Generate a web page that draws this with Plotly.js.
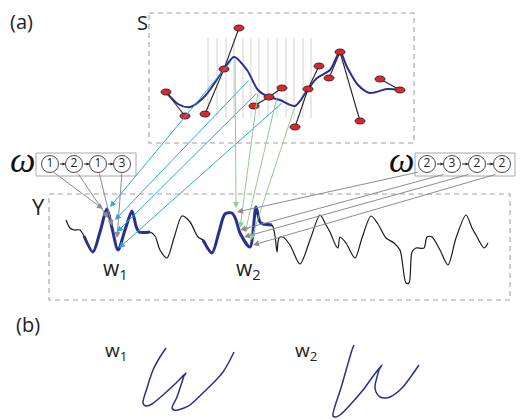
<!DOCTYPE html>
<html><head><meta charset="utf-8">
<script src="https://cdn.plot.ly/plotly-3.0.1.min.js"></script>
<style>html,body{margin:0;padding:0;background:#fff}</style>
</head><body><div id="plot" style="width:520px;height:420px"></div>
<script>
// ---------- data (diagram coordinates) ----------
// S: sample points (red) and their links
const sPtsX = [166,185,205,224,239,254,269,282,295,308,319,329,340,360,380,400];
const sPtsY = [92,116,114,69,28,106,97,88,127,89,66,78,52,121,79,90];
const sLinks = [[0,1],[2,3,4],[5,6,7],[8,9,10],[11,12],[12,13],[14,15]];
// S: smooth blue curve
const sCurveX = [166,178,190,205,224,234,247,258,269,280,295,308,317,330,340,347,358,370,387,400];
const sCurveY = [92,104,107,96,69,57,70,90,97,100,106,89,78,70,52,67,85,93,89,90];
// S: gray vertical grid lines
const sGridX = [208,217,226,234,243,251,259,268,277,286,294,303,311];
const sGridY = [38,118];
// Y: long signal
const yCurveX = [66,70,74,80,84,93,100,107,112,118,125,132,136,139,150,155,160,167,174,182,190,198,203,212,219,225,232,236,240,250,256,260,263,272,275,277,279,283,290,300,310,320,326,330,336,338,340,346,355,362,371,378,386,394,400,406,409,412,416,424,427,432,440,448,456,466,472,476,484,488];
const yCurveY = [220,228,230,230,236,252,232,209,228,250,230,211,226,232,232,236,250,258,238,216,222,237,240,253,232,214,213,220,233,247,207,222,224,225,236,252,238,237,245,264,240,215,225,232,246,248,237,243,258,238,216,224,238,243,250,283,283,252,248,248,237,237,250,265,238,215,228,235,248,243];
const w1Range = [84,150];
const w2Range = [203,273];
// arrows [tailX, tailY, headX, headY]
const cyanArrows = [[232,60,110,207],[250,79,115,220],[258,92,117,232],[283,102,119,248]];
const greenArrows = [[235,58,236,208],[258,92,240,228],[277,97,245,233],[295,106,251,240]];
const grayLeftArrows = [[52,171,103,209],[77,172,108,218],[99,172,112,226],[122,172,117,238]];
const grayRightArrows = [[419,172,237,212],[445,174,240,230],[470,174,244,237],[497,174,253,245]];
// omega state sequences
const omegaLeftX = [50,74,98,122];
const omegaLeftLabels = ['1','2','1','3'];
const omegaRightX = [427,452,477,502];
const omegaRightLabels = ['2','3','2','2'];
const omegaY = 164;
// (b) handwriting
const hw1X = [166,160,153,147,143,144,147,152,163,175,186,184,182,177,172,174,178,184,190,205,218,223,229,234];
const hw1Y = [348,357,370,388,402,405,406,404,395,384,373,376,382,397,408,410,410,408,405,391,378,372,362,352];
const hw2X = [354,352,347,341,335,333,336,340,350,363,374,382,379,377,375,376,380,385,390,402,412,419];
const hw2Y = [345,350,367,388,406,416,417,415,405,390,375,365,370,377,386,392,397,398,397,388,375,365];
// boxes [x0,y0,x1,y1]
const boxS = [149,13,414,143];
const boxY = [49,194,510,300];
const boxOmL = [36,153,136,176];
const boxOmR = [415,153,515,176];

// ---------- build ----------
const NAVY = '#2a2e8e', CYAN = '#2aa8e0', GREEN = '#8fcc92', GRAY = '#8c8c8c';
const traces = [];
function rect(b){return {x:[b[0],b[2],b[2],b[0],b[0]], y:[b[1],b[1],b[3],b[3],b[1]]};}
function line(x,y,color,width,dash,shape){
  traces.push({type:'scatter',mode:'lines',x:x,y:y,hoverinfo:'skip',showlegend:false,
    line:{color:color,width:width,dash:dash||'solid',shape:shape||'linear',smoothing:0.8}});
}
[boxS,boxY].forEach(b=>{const r=rect(b);line(r.x,r.y,'#a0a0a0',1.1,'5px,4px');});
[boxOmL,boxOmR].forEach(b=>{const r=rect(b);line(r.x,r.y,'#a8a8a8',1);});
sGridX.forEach(x=>line([x,x],sGridY,'#d4d4d4',1));
sLinks.forEach(l=>line(l.map(i=>sPtsX[i]),l.map(i=>sPtsY[i]),'#222',1.1));
line(sCurveX,sCurveY,NAVY,2,'solid','spline');
line(yCurveX,yCurveY,'#1a1a1a',1.2,'solid','spline');
function seg(r){const xs=[],ys=[];yCurveX.forEach((x,i)=>{if(x>=r[0]&&x<=r[1]){xs.push(x);ys.push(yCurveY[i]);}});return [xs,ys];}
[w1Range,w2Range].forEach(r=>{const s=seg(r);line(s[0],s[1],NAVY,3,'solid','spline');});
line(hw1X,hw1Y,NAVY,1.5,'solid','spline');
line(hw2X,hw2Y,NAVY,1.5,'solid','spline');
// omega circles
[[omegaLeftX,omegaLeftLabels],[omegaRightX,omegaRightLabels]].forEach(o=>{
  traces.push({type:'scatter',mode:'markers+text',x:o[0],y:o[0].map(()=>omegaY),text:o[1],
    textposition:'middle center',textfont:{family:'Open Sans',size:12,color:'#222'},
    marker:{symbol:'circle',size:17,color:'rgba(255,255,255,0)',line:{color:'#333',width:0.9}},
    hoverinfo:'skip',showlegend:false});
});

const shapes = [];
sPtsX.forEach((x,i)=>{const y=sPtsY[i];
  shapes.push({type:'circle',xref:'x',yref:'y',x0:x-5,x1:x+5,y0:y-3,y1:y+3,
    fillcolor:'#e3232b',line:{color:'#222',width:0.9},layer:'above'});});

const ann = [];
function arrow(a,color,size){
  ann.push({x:a[2],y:a[3],ax:a[0],ay:a[1],xref:'x',yref:'y',axref:'x',ayref:'y',text:'',
    showarrow:true,arrowhead:2,arrowsize:size||1.2,arrowwidth:1,arrowcolor:color,standoff:0,startstandoff:0});
}
cyanArrows.forEach(a=>arrow(a,CYAN));
greenArrows.forEach(a=>arrow(a,GREEN));
grayLeftArrows.forEach(a=>arrow(a,GRAY));
grayRightArrows.forEach(a=>arrow(a,GRAY));
[omegaLeftX,omegaRightX].forEach(xs=>{for(let i=0;i<xs.length-1;i++){
  arrow([xs[i]+8.5,omegaY,xs[i+1]-8.5,omegaY],'#222',0.6);}});
function txt(x,y,t,size,opts){ann.push(Object.assign({x:x,y:y,xref:'x',yref:'y',text:t,showarrow:false,
  font:{family:'Open Sans',size:size,color:'#222'}},opts||{}));}
txt(8,21,'(a)',20,{xanchor:'left'});
txt(28,324,'(b)',20);
txt(142,22,'S',20);
txt(38,206,'Y',22);
const omFont = {family:'Liberation Serif',size:36,color:'#111',style:'italic'};
txt(22,160,'ω',36,{font:omFont});
txt(401,160,'ω',36,{font:omFont});
txt(115,269,'w<sub>1</sub>',21);
txt(248,269,'w<sub>2</sub>',21);
txt(116,351,'w<sub>1</sub>',19);
txt(306,351,'w<sub>2</sub>',19);

Plotly.newPlot('plot',traces,{
  width:520,height:420,margin:{l:0,r:0,t:0,b:0},
  paper_bgcolor:'#fff',plot_bgcolor:'#fff',
  xaxis:{range:[0,520],visible:false,fixedrange:true},
  yaxis:{range:[420,0],visible:false,fixedrange:true},
  shapes:shapes,annotations:ann,showlegend:false
},{staticPlot:true});
</script></body></html>
